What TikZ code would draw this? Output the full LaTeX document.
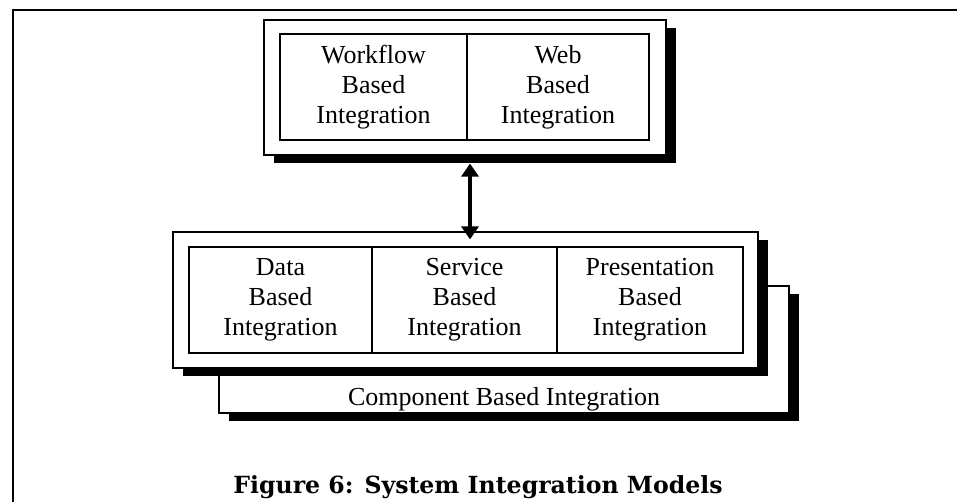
\documentclass[tikz,border=0pt]{standalone}
\usepackage{fontspec}
\setmainfont{Liberation Serif}
\newfontfamily\captionfont{DejaVu Serif}
\usetikzlibrary{shadows,arrows.meta}

\tikzset{
  cell/.style={draw,line width=0.7pt,minimum height=53pt,inner sep=0pt,
    align=center,font=\fontsize{13}{15}\selectfont},
  shadowbox/.style={draw,line width=0.6pt,fill=white,inner sep=0pt,
    drop shadow={shadow xshift=5pt,shadow yshift=-4pt,fill=black,opacity=1}},
  dblarrow/.style={line width=2.2pt,{Triangle[width=8.5pt,length=6.5pt]}-{Triangle[width=8.5pt,length=6.5pt]}}
}

\begin{document}
\begin{tikzpicture}[x=0.5pt,y=-0.5pt]
\useasboundingbox (0,0) rectangle (957,502);
\draw[line width=1.3pt] (13,502) -- (13,10) -- (957,10);
% upper layer
\node[shadowbox,minimum width=201pt,minimum height=67.5pt] (topbox) at (465,87.5) {};
\node[cell,minimum width=93.5pt] (workflow) at (373.5,87) {Workflow\\Based\\Integration};
\node[cell,minimum width=91pt] (web) at (558,87) {Web\\Based\\Integration};
% lower layer
\node[shadowbox,minimum width=285pt,minimum height=63.5pt] (compbox) at (504,349.5) {};
\node[anchor=base,font=\fontsize{13}{15}\selectfont] (complabel) at (504,405) {Component Based Integration};
\node[shadowbox,minimum width=292.5pt,minimum height=68pt] (lowbox) at (465.5,300) {};
\node[cell,minimum width=91.5pt] (data) at (280.5,300) {Data\\Based\\Integration};
\node[cell,minimum width=92.5pt] (service) at (464.5,300) {Service\\Based\\Integration};
\node[cell,minimum width=93pt] (presentation) at (650,300) {Presentation\\Based\\Integration};
\draw[dblarrow] ([shift={(5,8)}]topbox.south) -- ([shift={(5,8)}]topbox.south |- lowbox.north);
\node[anchor=base,font=\captionfont\bfseries\fontsize{11.8}{14}\selectfont] (caption) at (478,493) {Figure 6: System Integration Models};
\end{tikzpicture}
\end{document}
